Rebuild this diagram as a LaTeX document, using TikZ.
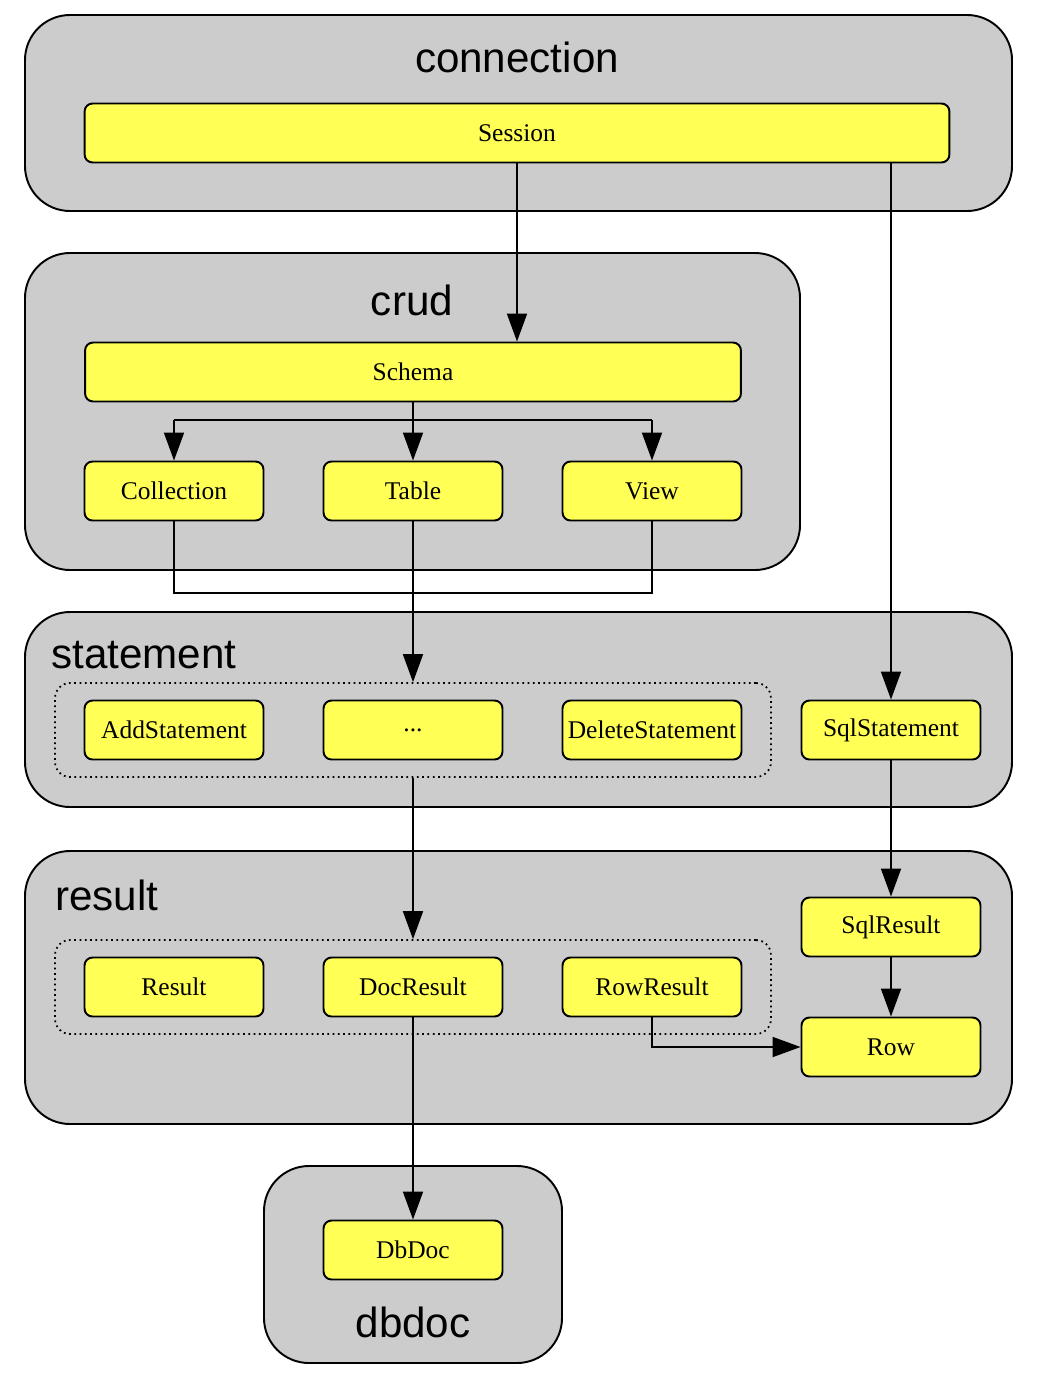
\documentclass[tikz,border=0pt]{standalone}
\usepackage{fontspec}
\setmainfont{Liberation Serif}
\setsansfont{Liberation Sans}
\usetikzlibrary{positioning,arrows.meta}
\definecolor{clustergray}{HTML}{CCCCCC}
\definecolor{classyellow}{HTML}{FFFF55}

\begin{document}
\begin{tikzpicture}[x=0.02cm, y=-0.02cm,
    cluster/.style={draw, fill=clustergray, rounded corners=0.9cm, line width=1.1pt},
    group/.style={draw, dotted, rounded corners=0.3cm, minimum width=14.32cm, minimum height=1.88cm, line width=1pt},
    cls/.style={draw, fill=classyellow, rounded corners=0.16cm, minimum width=3.58cm, minimum height=1.18cm, inner sep=1pt, font=\fontsize{14.5}{17}\selectfont, line width=1.1pt},
    title/.style={font=\sffamily\fontsize{24}{28}\selectfont},
    conn/.style={line width=1pt},
    arrow/.style={conn, -{Triangle[length=0.56cm,width=0.4cm]}}]
    \useasboundingbox (0,0) rectangle (1038,1376);

    % Clusters
    \draw[cluster] (25,15) rectangle (1012,211);
    \draw[cluster] (25,253) rectangle (800,570);
    \draw[cluster] (25,612) rectangle (1012,807);
    \draw[cluster] (25,851) rectangle (1012,1124);
    \draw[cluster] (264,1166) rectangle (562,1363);

    % Cluster titles
    \node[title, anchor=base] (tconn) at (517,72) {connection};
    \node[title, anchor=base] (tcrud) at (412,315) {crud};
    \node[title, anchor=base west, inner sep=0pt] (tstmt) at (51,668) {statement};
    \node[title, anchor=base west, inner sep=0pt] (tres) at (55,910) {result};
    \node[title, anchor=base] (tdbdoc) at (413,1337) {dbdoc};

    % Dotted groups
    \node[group] (stmtgroup) at (413,730) {};
    \node[group] (resgroup) at (413,987) {};

    % Classes
    \node[cls, minimum width=17.3cm] (Session) at (517,133) {Session};
    \node[cls, minimum width=13.12cm] (Schema) at (413,372) {Schema};
    \node[cls] (Collection) at (174,491) {Collection};
    \node[cls] (Table) at (413,491) {Table};
    \node[cls] (View) at (652,491) {View};
    \node[cls] (AddStatement) at (174,730) {AddStatement};
    \node[cls] (Dots) at (413,730) {...};
    \node[cls] (DeleteStatement) at (652,730) {DeleteStatement};
    \node[cls] (SqlStatement) at (891,730) {SqlStatement};
    \node[cls] (Result) at (174,987) {Result};
    \node[cls] (DocResult) at (413,987) {DocResult};
    \node[cls] (RowResult) at (652,987) {RowResult};
    \node[cls] (SqlResult) at (891,927) {SqlResult};
    \node[cls] (Row) at (891,1047) {Row};
    \node[cls] (DbDoc) at (413,1250) {DbDoc};

    % Helper points
    \coordinate (split) at (413,420);
    \coordinate (join) at (413,593);

    % Connectors
    \draw[arrow] (Session.south) -- (Session.south |- Schema.north);
    \draw[arrow] (Session.south -| SqlStatement.north) -- (SqlStatement.north);
    \draw[conn] (Schema.south) -- (split);
    \draw[conn] (split -| Collection.north) -- (split -| View.north);
    \foreach \n in {Collection,Table,View}
        \draw[arrow] (split -| \n.north) -- (\n.north);
    \draw[conn] (Collection.south) -- (Collection.south |- join) -- (View.south |- join) -- (View.south);
    \draw[arrow] (Table.south) -- (stmtgroup.north);
    \draw[arrow] (stmtgroup.south) -- (resgroup.north);
    \draw[arrow] (SqlStatement.south) -- (SqlResult.north);
    \draw[arrow] (SqlResult.south) -- (Row.north);
    \draw[arrow] (RowResult.south) -- (RowResult.south |- Row.west) -- (Row.west);
    \draw[arrow] (DocResult.south) -- (DbDoc.north);
\end{tikzpicture}
\end{document}
